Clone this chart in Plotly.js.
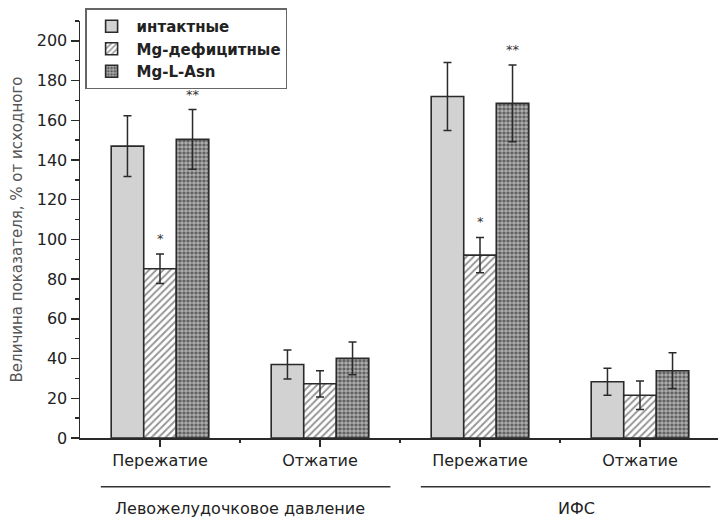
<!DOCTYPE html>
<html>
<head>
<meta charset="utf-8">
<script src="https://cdn.plot.ly/plotly-3.0.1.min.js"></script>
<style>html,body{margin:0;padding:0;background:#fff;}#chart{width:718px;height:521px;}</style>
</head>
<body>
<div id="chart"></div>
<script>
// ---- data ----
const categoryPositions = [1, 2, 3, 4];
const categoryLabels = ["Пережатие", "Отжатие", "Пережатие", "Отжатие"];
const groupLabels = ["Левожелудочковое давление", "ИФС"];
const seriesNames = ["интактные", "Mg-дефицитные", "Mg-L-Asn"];

const intact = [147, 37, 172, 28.3];
const intactErr = [15.3, 7.3, 17.1, 6.8];
const mgDeficit = [85.2, 27.3, 92.1, 21.5];
const mgDeficitErr = [7.4, 6.6, 8.9, 7.2];
const mgAsn = [150.4, 40.1, 168.5, 33.9];
const mgAsnErr = [15.0, 8.2, 19.3, 9.0];
const intactStars = ["", "", "", ""];
const mgDeficitStars = ["*", "", "*", ""];
const mgAsnStars = ["**", "", "**", ""];

// ---- styling ----
const FONT = "DejaVu Sans, Arial, sans-serif";
const EDGE = "#2a2a2a";
const bargap = 0.39;
const barW = (1 - bargap) / 3;

const errStyle = (arr) => ({type: "data", array: arr, visible: true, color: EDGE, thickness: 1.5, width: 4});

const traces = [
  {
    type: "bar", name: seriesNames[0], x: categoryPositions, y: intact,
    error_y: errStyle(intactErr),
    marker: {color: "#d2d2d2", line: {color: EDGE, width: 1.6}}
  },
  {
    type: "bar", name: seriesNames[1], x: categoryPositions, y: mgDeficit,
    error_y: errStyle(mgDeficitErr),
    marker: {color: "#ffffff", line: {color: EDGE, width: 1.6},
      pattern: {shape: "/", size: 5, solidity: 0.38, fgcolor: "#2a2a2a", bgcolor: "#ffffff", fillmode: "overlay"}}
  },
  {
    type: "bar", name: seriesNames[2], x: categoryPositions, y: mgAsn,
    error_y: errStyle(mgAsnErr),
    marker: {color: "#ffffff", line: {color: EDGE, width: 1.6},
      pattern: {shape: ".", size: 4, solidity: 0.66, fgcolor: "#ffffff", bgcolor: "#575757", fillmode: "overlay"}}
  }
];

const annotations = [];
const seriesVals = [intact, mgDeficit, mgAsn];
const seriesErrs = [intactErr, mgDeficitErr, mgAsnErr];
const seriesStars = [intactStars, mgDeficitStars, mgAsnStars];
seriesStars.forEach((stars, k) => {
  stars.forEach((s, i) => {
    if (!s) return;
    annotations.push({
      x: categoryPositions[i] + (k - 1) * barW, xref: "x",
      y: seriesVals[k][i] + seriesErrs[k][i], yref: "y",
      text: s, showarrow: false, yanchor: "bottom", yshift: 6,
      font: {family: FONT, size: 13, color: "#333"}
    });
  });
});
// group labels
const groupCenters = [1.5, 3.6];
groupLabels.forEach((g, j) => {
  annotations.push({
    x: groupCenters[j], xref: "x", y: -0.168, yref: "paper",
    text: g, showarrow: false, yanchor: "middle",
    font: {family: FONT, size: 16, color: "#222"}
  });
});

const shapes = [
  {type: "line", xref: "x", yref: "paper", x0: 0.63, x1: 2.44, y0: -0.117, y1: -0.117, line: {color: "#333", width: 1.5}},
  {type: "line", xref: "x", yref: "paper", x0: 2.63, x1: 4.44, y0: -0.117, y1: -0.117, line: {color: "#333", width: 1.5}}
];

const layout = {
  width: 718, height: 521,
  margin: {l: 80, r: 0, t: 21, b: 83},
  paper_bgcolor: "#fff", plot_bgcolor: "#fff",
  barmode: "group", bargap: bargap, bargroupgap: 0,
  font: {family: FONT, color: "#222"},
  showlegend: true,
  legend: {
    x: 0.008, y: 1.03, xanchor: "left", yanchor: "top",
    bordercolor: "#666", borderwidth: 1.5, bgcolor: "#fff",
    font: {family: "DejaVu Sans, Arial, sans-serif", size: 15, color: "#222", weight: "bold"},
    itemwidth: 40, tracegroupgap: 0
  },
  xaxis: {
    range: [0.5, 4.4875], tickmode: "array", tickvals: categoryPositions, ticktext: categoryLabels,
    ticks: "outside", ticklen: 7, tickwidth: 1.5, tickcolor: EDGE,
    showline: true, linecolor: EDGE, linewidth: 1.5, showgrid: false, zeroline: false,
    tickfont: {family: FONT, size: 16, color: "#222"},
    minor: {tickmode: "array", tickvals: [1.5, 2.5, 3.5], ticks: "outside", ticklen: 3, tickwidth: 1.5, tickcolor: EDGE, showgrid: false},
    fixedrange: true
  },
  yaxis: {
    range: [0, 210], dtick: 20, tick0: 0,
    ticks: "outside", ticklen: 8, tickwidth: 1.5, tickcolor: EDGE,
    showline: true, linecolor: EDGE, linewidth: 1.5, showgrid: false, zeroline: false,
    tickfont: {family: FONT, size: 16, color: "#222"},
    minor: {dtick: 10, ticks: "outside", ticklen: 4, tickwidth: 1.5, tickcolor: EDGE, showgrid: false},
    title: {text: "Величина показателя, % от исходного", standoff: 10, font: {family: FONT, size: 15, color: "#555"}},
    automargin: false, fixedrange: true
  },
  annotations: annotations,
  shapes: shapes
};

Plotly.newPlot("chart", traces, layout, {displayModeBar: false, staticPlot: true});
</script>
</body>
</html>
